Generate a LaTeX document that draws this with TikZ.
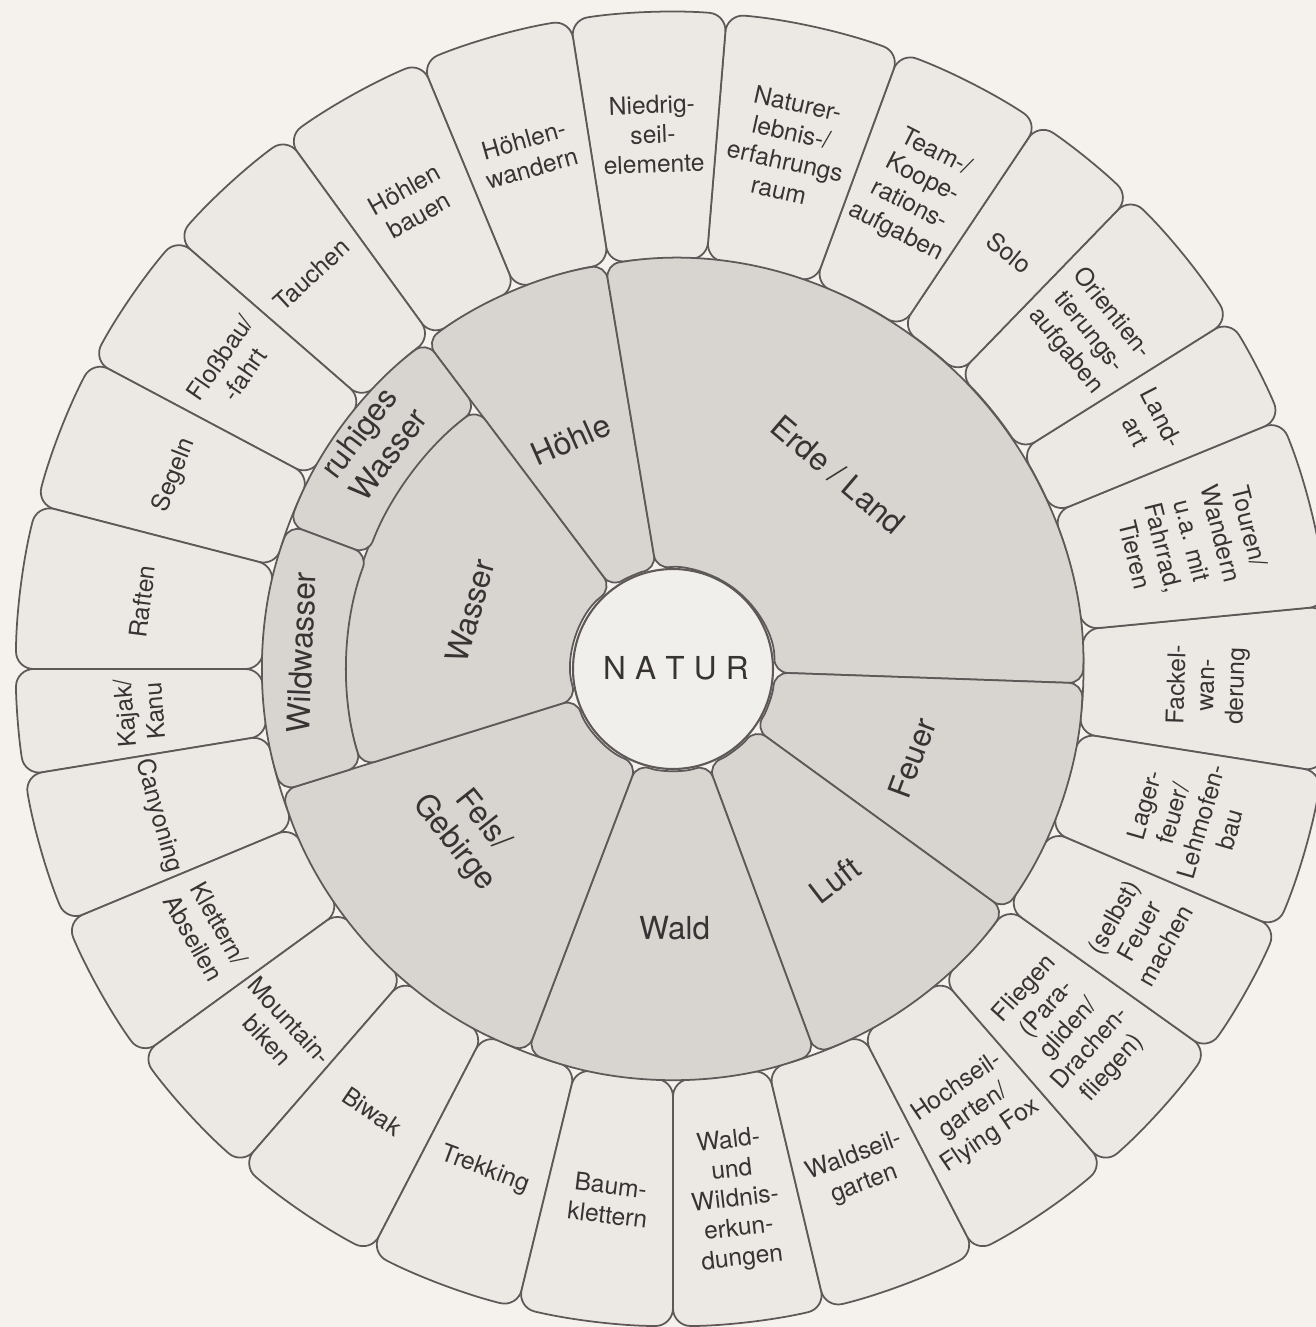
\documentclass[tikz,border=0pt]{standalone}
\usepackage{fontspec}
\setmainfont{TeX Gyre Heros}
\usepackage{tikz}

\definecolor{paper}{HTML}{F5F2EE}
\definecolor{boxfill}{HTML}{ECE9E4}
\definecolor{ringfill}{HTML}{D8D4D0}
\definecolor{hubfill}{HTML}{F1EFEB}
\definecolor{rim}{HTML}{5E5858}
\definecolor{ink}{HTML}{383434}

\begin{document}
\begin{tikzpicture}[
  seg/.style={draw=rim, line width=0.5pt, rounded corners=5pt, fill=boxfill},
  core/.style={seg, rounded corners=4pt, fill=ringfill},
  hub/.style={draw=rim, line width=0.6pt, fill=hubfill},
  olbl/.style={align=center, text=ink, font=\fontsize{7}{8.4}\selectfont},
  ilbl/.style={align=center, text=ink, font=\fontsize{9}{10.5}\selectfont}
]
\fill[paper] (-6.73,-6.58) rectangle (6.43,6.69);
\useasboundingbox (-6.73,-6.58) rectangle (6.43,6.69);

% outer ring: activities
\foreach \a/\b/\lbl [count=\i] in {
  351/365.5/{Fackel-\\wan-\\derung},
  5.5/22.3/{Touren/\\Wandern\\u.a. mit\\Fahrrad,\\Tieren},
  22.3/32.1/{Land-\\art},
  32.1/45.9/{Orientien-\\tierungs-\\aufgaben},
  45.9/56.2/{Solo},
  56.2/69.8/{Team-/\\Koope-\\rations-\\aufgaben},
  69.8/85.3/{Naturer-\\lebnis-/\\erfahrungs\\raum},
  85.3/99/{Niedrig-\\seil-\\elemente},
  99/112.5/{Höhlen-\\wandern},
  112.5/126/{Höhlen\\bauen},
  126/139/{Tauchen},
  139/152/{Floßbau/\\-fahrt},
  152/165.5/{Segeln},
  165.5/180/{Raften},
  180/189.3/{Kajak/\\Kanu},
  189.3/202.6/{Canyoning},
  202.6/216/{Klettern/\\Abseilen},
  216/229/{Mountain-\\biken},
  229/242.6/{Biwak},
  242.6/256.3/{Trekking},
  256.3/270/{Baum-\\klettern},
  270/283.4/{Wald-\\und\\Wildnis-\\erkun-\\dungen},
  283.4/297.4/{Waldseil-\\garten},
  297.4/311/{Hochseil-\\garten/\\Flying Fox},
  311/324.5/{Fliegen\\(Para-\\gliden/\\Drachen-\\fliegen)},
  324.5/336.8/{(selbst)\\Feuer\\machen},
  336.8/351/{Lager-\\feuer/\\Lehmofen-\\bau}}{
  \pgfmathsetmacro\m{(\a+\b)/2}
  \pgfmathsetmacro\tilt{\m<188 ? \m-90 : \m+90}
  \draw[seg] (\a:4.10) arc[start angle=\a, end angle=\b, radius=4.10]
    -- (\b:6.57) arc[start angle=\b, end angle=\a, radius=6.57] -- cycle;
  \node[olbl, rotate=\tilt] (act\i) at (\m:5.35) {\lbl};
}

% inner ring: elements
\foreach \a/\b/\ri/\ro/\la/\lr/\lbl [count=\j] in {
  99.5/127/1.01/4.10/114/2.51/{Höhle},
  -2/99.5/1.01/4.10/49.6/2.55/{Erde / Land},
  324/358/1.01/4.10/339.6/2.55/{Feuer},
  290.3/324/1.01/4.10/307.5/2.66/{Luft},
  249.2/290.3/1.01/4.10/270.4/2.59/{Wald},
  197.3/249.2/1.01/4.10/218.5/2.62/{Fels/\\Gebirge},
  127/197.3/1.01/3.26/164/2.11/{Wasser},
  127/159.4/3.26/4.10/143/3.75/{ruhiges\\Wasser},
  159.4/197.3/3.26/4.10/177.5/3.72/{Wildwasser}}{
  \pgfmathsetmacro\tilt{\la<188 ? \la-90 : \la+90}
  \draw[core] (\a:\ri) arc[start angle=\a, end angle=\b, radius=\ri]
    -- (\b:\ro) arc[start angle=\b, end angle=\a, radius=\ro] -- cycle;
  \node[ilbl, rotate=\tilt] (elem\j) at (\la:\lr) {\lbl};
}

\draw[hub] (0,0) circle (1.0);
\node[ilbl] (natur) at (0.03,0.01) {N\kern2.6pt A\kern2.6pt T\kern2.6pt U\kern2.6pt R};
\end{tikzpicture}
\end{document}
